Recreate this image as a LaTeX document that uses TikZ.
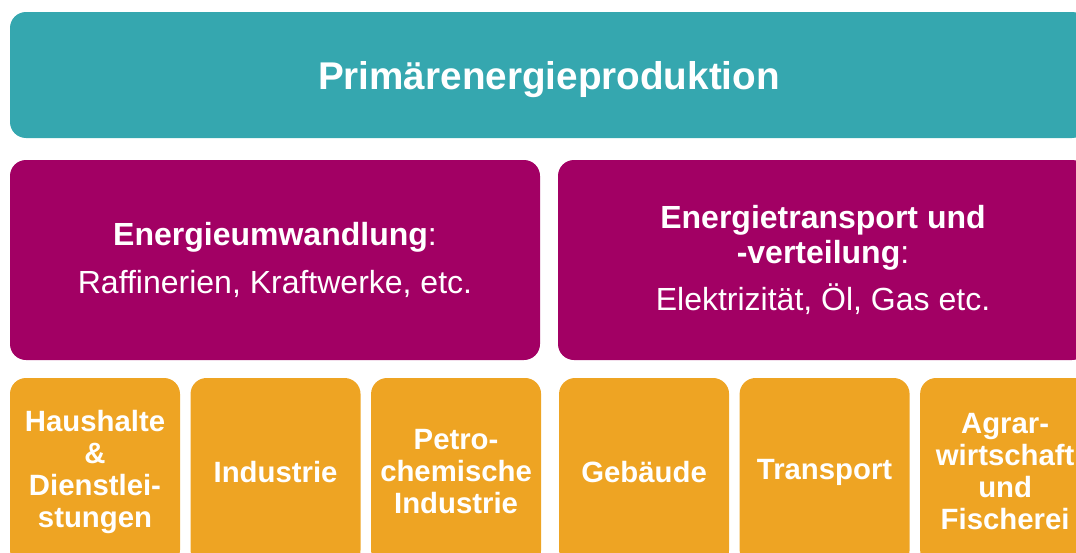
\documentclass[tikz,border=0pt]{standalone}
\usepackage{fontspec}
\setmainfont{Liberation Sans}
\usepackage{xcolor}
\usepackage{tikz}
\usetikzlibrary{positioning}

\definecolor{prodteal}{HTML}{35A7AF}
\definecolor{stagepurple}{HTML}{A20064}
\definecolor{useorange}{HTML}{EEA423}

\begin{document}
\begin{tikzpicture}[
  x=0.75pt, y=-0.75pt,
  node distance=7.9pt,
  box/.style={rectangle, rounded corners=12pt, inner sep=0pt, outer sep=0pt, text=white, align=center, anchor=center},
  headbox/.style={box, fill=prodteal, minimum width=808.5pt, minimum height=94.5pt, text depth=0pt, font=\bfseries\fontsize{29}{32}\selectfont},
  stagebox/.style={box, fill=stagepurple, minimum width=397.5pt, minimum height=150pt, font=\fontsize{24}{26.5}\selectfont},
  usebox/.style={box, fill=useorange, minimum width=127.5pt, minimum height=141pt, font=\bfseries\fontsize{22}{24}\selectfont}
]
\path[use as bounding box, clip] (0,0) rectangle (1076,553);

\node[headbox] (prod) at (549,75) {Primärenergieproduktion};

\node[stagebox, anchor=north west] (conv) at (10,160) {\textbf{Energieumwandlung}:\\[9pt] Raffinerien, Kraftwerke, etc.};
\node[stagebox, right=13.5pt of conv] (dist) {\textbf{Energietransport und}\\ \textbf{-verteilung}:\\[9pt] Elektrizität, Öl, Gas etc.};

\node[usebox, anchor=north west] (homes) at (10,378) {Haushalte\\ \&\\ Dienstlei-\\ stungen};
\node[usebox, right=of homes] (industry) {Industrie};
\node[usebox, right=of industry] (petro) {Petro-\\ chemische\\ Industrie};
\node[usebox, right=13.5pt of petro] (buildings) {Gebäude};
\node[usebox, right=of buildings] (transport) {Transport};
\node[usebox, right=of transport] (agri) {Agrar-\\ wirtschaft\\ und\\ Fischerei};
\end{tikzpicture}
\end{document}
